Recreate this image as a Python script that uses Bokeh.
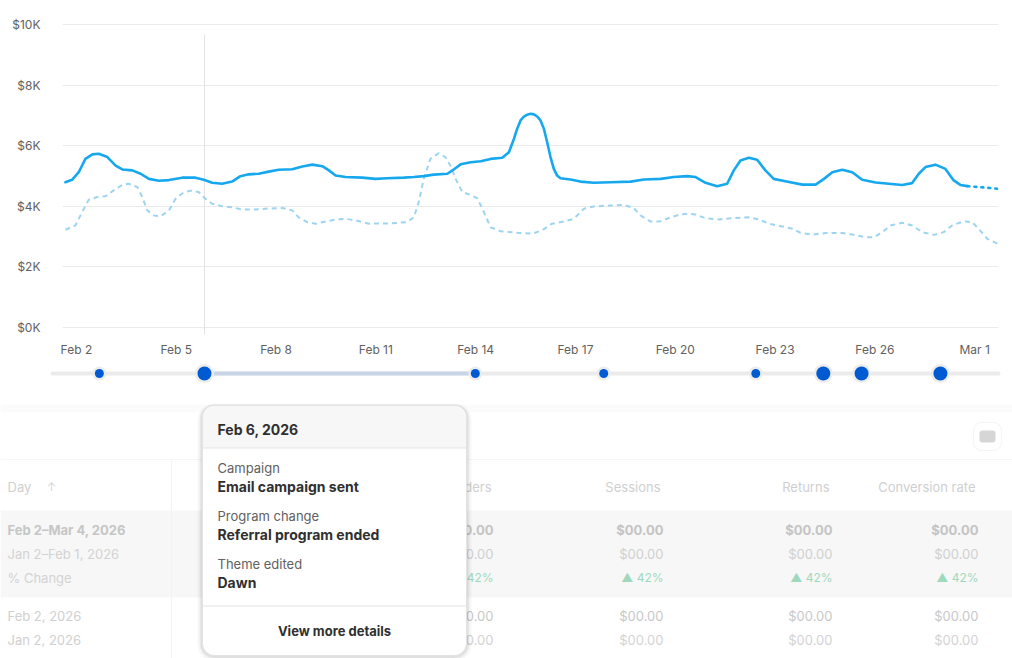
from bokeh.plotting import figure
from bokeh.layouts import column
from bokeh.models import Range1d, FixedTicker
from bokeh.core.properties import value
from bokeh.embed import file_html
from bokeh.resources import INLINE

# ---------------- data ----------------
tick_days = [0, 3, 6, 9, 12, 15, 18, 21, 24, 27]
tick_labels = ["Feb 2", "Feb 5", "Feb 8", "Feb 11", "Feb 14", "Feb 17", "Feb 20", "Feb 23", "Feb 26", "Mar 1"]
y_ticks = [0, 2000, 4000, 6000, 8000, 10000]
y_tick_labels = ["$0K", "$2K", "$4K", "$6K", "$8K", "$10K"]

# current period (days after Feb 2, sales in $)
cur_day = [-0.33, -0.13, 0.07, 0.27, 0.48, 0.67, 0.93, 1.18, 1.38, 1.68, 1.93, 2.18, 2.48, 2.78, 3.18, 3.58,
           3.83, 4.08, 4.38, 4.68, 4.93, 5.18, 5.48, 5.78, 6.08, 6.49, 6.79, 7.09, 7.39, 7.59, 7.79, 8.09,
           8.59, 8.99, 9.34, 9.84, 10.14, 10.44, 10.74, 11.15, 11.34, 11.55, 11.85, 12.15, 12.45, 12.80,
           13.00, 13.15, 13.25, 13.35, 13.45, 13.55, 13.65, 13.75, 13.85, 13.95, 14.05, 14.15, 14.25, 14.35,
           14.45, 14.55, 14.85, 15.15, 15.55, 16.05, 16.66,
           17.06, 17.56, 17.96, 18.36, 18.61, 18.91, 19.26, 19.56, 19.76, 19.96, 20.21, 20.46, 20.71, 20.96,
           21.31, 21.82, 22.22, 22.47, 22.72, 23.02, 23.32, 23.62, 24.02, 24.42, 24.82, 25.12, 25.32, 25.52,
           25.82, 26.12, 26.37, 26.57, 26.78]
cur_sales = [4790, 4870, 5120, 5560, 5710, 5730, 5620, 5340, 5210, 5180, 5070, 4900, 4840, 4860, 4940, 4940,
             4870, 4770, 4740, 4810, 4990, 5050, 5070, 5140, 5200, 5220, 5310, 5370, 5320, 5180, 5010, 4960,
             4940, 4900, 4920, 4940, 4960, 4990, 5040, 5070, 5210, 5380, 5450, 5480, 5560, 5600,
             5780, 6220, 6560, 6830, 6960, 7020, 7050, 7030, 6960, 6830, 6560, 6110, 5620, 5230,
             5010, 4920, 4880, 4810, 4770, 4790, 4810,
             4880, 4900, 4960, 4990, 4960, 4770, 4660, 4740, 5180, 5510, 5600, 5530, 5180, 4900,
             4820, 4710, 4710, 4900, 5120, 5200, 5120, 4870, 4780, 4740, 4700, 4760, 5070, 5290,
             5370, 5230, 4850, 4700, 4660]
# incomplete (projected) tail
proj_day = [26.78, 27.24, 27.73]
proj_sales = [4660, 4620, 4570]

# previous period
prev_day = [-0.33, -0.03, 0.17, 0.37, 0.63, 0.88, 1.12, 1.38, 1.57, 1.83, 1.98, 2.13, 2.33, 2.53, 2.78, 2.98,
            3.23, 3.48, 3.68, 3.88, 4.08, 4.38, 4.68, 4.98, 5.38, 5.78, 6.19, 6.49, 6.68, 6.94, 7.19, 7.49,
            7.79, 8.09, 8.39, 8.79, 9.44, 9.94, 10.14, 10.29, 10.44, 10.64, 10.89, 11.09, 11.24, 11.40,
            11.60, 11.85, 12.05, 12.25, 12.45, 12.75, 13.25, 13.70, 14.00, 14.30, 14.65, 14.95, 15.25, 15.55,
            16.05, 16.45, 16.75, 16.96, 17.26, 17.56, 17.86, 18.16, 18.41, 18.61, 18.91, 19.31, 19.81, 20.21,
            20.51, 20.81, 21.21, 21.52, 21.76, 22.12, 22.52, 23.02, 23.32, 23.72, 23.97, 24.22, 24.47, 24.82,
            25.12, 25.42, 25.77, 26.07, 26.32, 26.67, 26.93, 27.12, 27.38, 27.68]
prev_sales = [3220, 3360, 3800, 4210, 4300, 4330, 4520, 4700, 4740, 4630, 4300, 3860, 3690, 3660, 3860, 4240,
              4460, 4520, 4460, 4240, 4080, 4000, 3960, 3890, 3890, 3920, 3940, 3860, 3630, 3470, 3420, 3490,
              3560, 3580, 3530, 3420, 3430, 3470, 3630, 4130, 4900, 5560, 5750, 5620, 5340, 4900,
              4460, 4370, 4260, 3800, 3300, 3170, 3120, 3090, 3200, 3420, 3490, 3580, 3910, 3990,
              4020, 4040, 3940, 3690, 3490, 3500, 3630, 3730, 3750, 3720, 3600, 3560, 3610, 3630,
              3560, 3420, 3330, 3250, 3120, 3060, 3110, 3110, 3060, 2970, 2970, 3140, 3360, 3450,
              3360, 3140, 3050, 3140, 3360, 3500, 3470, 3250, 2920, 2760]

# timeline events
event_day = [0.69, 3.85, 11.99, 15.85, 20.42, 22.45, 23.60, 25.97]
event_count = [1, 3, 1, 1, 1, 2, 2, 2]
selected_day = 3.85
selected_end_day = 11.99

# tooltip content
tooltip_title = "Feb 6, 2026"
tooltip_types = ["Campaign", "Program change", "Theme edited"]
tooltip_names = ["Email campaign sent", "Referral program ended", "Dawn"]
tooltip_link = "View more details"

# table (background) content
table_cols = ["Orders", "Sessions", "Returns", "Conversion rate"]
summary_labels = ["Feb 2\u2013Mar 4, 2026", "Jan 2\u2013Feb 1, 2026", "% Change"]
row_labels = ["Feb 2, 2026", "Jan 2, 2026"]
cell_value = "$00.00"
change_value = "\u25b2 42%"

# ---------------- layout constants ----------------
W, H, TOP_H = 1012, 658, 362
PX_PER_DAY, DAY0_PX = 33.27, 75.9
FL, FR, FT, FB = 62, 998, 15, 334
ZERO_PX, PX_PER_USD = 326.7, 30.27 / 1000.0
FONT = value("Inter")
GRAY = "#616161"
INK = "#303030"


def px_to_day(px):
    return (px - DAY0_PX) / PX_PER_DAY


def px_to_usd(py):
    return (ZERO_PX - py) / PX_PER_USD


# ---------------- chart ----------------
p = figure(width=W, height=TOP_H, output_backend="svg", toolbar_location=None,
           x_range=Range1d(px_to_day(FL), px_to_day(FR)),
           y_range=Range1d(px_to_usd(FB), px_to_usd(FT)),
           min_border_left=FL, min_border_right=W - FR, min_border_top=FT, min_border_bottom=TOP_H - FB,
           outline_line_color=None, background_fill_color="white", border_fill_color="white",
           frame_align=False)

p.xaxis.ticker = FixedTicker(ticks=tick_days)
p.xaxis.major_label_overrides = {d: s for d, s in zip(tick_days, tick_labels)}
p.yaxis.ticker = FixedTicker(ticks=y_ticks)
p.yaxis.major_label_overrides = {v: s for v, s in zip(y_ticks, y_tick_labels)}
for ax in (p.xaxis, p.yaxis):
    ax.axis_line_color = None
    ax.major_tick_line_color = None
    ax.minor_tick_line_color = None
    ax.major_label_text_font = "Inter"
    ax.major_label_text_font_size = "12px"
    ax.major_label_text_color = GRAY
p.xaxis.major_label_standoff = 1
p.yaxis.major_label_standoff = 16
p.xgrid.visible = False
p.ygrid.grid_line_color = "#ebebeb"
p.ygrid.grid_line_width = 1

# hover cursor line
p.segment(x0=[selected_day], x1=[selected_day], y0=[px_to_usd(336)], y1=[px_to_usd(34)],
          line_color="#e3e3e3", line_width=1)

p.line(prev_day, prev_sales, line_color="#9dd4f0", line_width=2, line_dash="5 4", line_join="round")
p.line(cur_day, cur_sales, line_color="#16a8ee", line_width=2.6, line_join="round", line_cap="round")
p.line(proj_day, proj_sales, line_color="#16a8ee", line_width=2.6, line_dash="2 5", line_cap="round")

# ---------------- lower panel: timeline, table, tooltip ----------------
q = figure(width=W, height=H - TOP_H, output_backend="svg", toolbar_location=None,
           x_range=Range1d(px_to_day(0), px_to_day(W)), y_range=Range1d(H, TOP_H),
           x_axis_location=None, y_axis_location=None,
           min_border_left=0, min_border_right=0, min_border_top=0, min_border_bottom=0,
           outline_line_color=None, background_fill_color="white", border_fill_color="white",
           frame_align=False)
q.extra_x_ranges = {"px": Range1d(0, W)}
q.grid.visible = False

# timeline track
q.segment(x0=[52], x1=[998], y0=[373], y1=[373], x_range_name="px",
          line_color="#ebebeb", line_width=4, line_cap="round")
q.segment(x0=[selected_day], x1=[selected_end_day], y0=[373], y1=[373],
          line_color="#c8d5e7", line_width=4)
sizes = [14 if c > 1 else 9 for c in event_count]
q.scatter(event_day, [373] * len(event_day), size=[s + 5 for s in sizes],
          fill_color="#ececec", line_color=None)
q.scatter(event_day, [373] * len(event_day), size=sizes, fill_color="#005bd3", line_color=None)

# table backdrop
q.quad(left=[0], right=[W], top=[404], bottom=[412], x_range_name="px", fill_color="#fbfbfb", line_color=None)
q.quad(left=[0], right=[W], top=[510], bottom=[597], x_range_name="px", fill_color="#f7f7f7", line_color=None)
q.segment(x0=[0], x1=[W], y0=[459], y1=[459], x_range_name="px", line_color="#f6f6f6", line_width=1)
q.segment(x0=[171], x1=[171], y0=[460], y1=[H], x_range_name="px", line_color="#f3f3f3", line_width=1)
q.quad(left=[973], right=[1001], top=[422], bottom=[450], x_range_name="px",
       fill_color="white", line_color="#f4f4f4", border_radius=8)
q.quad(left=[979], right=[995], top=[430], bottom=[442], x_range_name="px",
       fill_color="#d6d6d6", line_color=None, border_radius=3)

TXT = dict(x_range_name="px", text_font=FONT, text_baseline="middle")
q.text(x=[7], y=[486], text=["Day"], text_font_size="13px", text_color="#cfcfcf", **TXT)
q.text(x=[46], y=[486], text=["\u2191"], text_font_size="12px", text_color="#d9d9d9", **TXT)
head_right = [491, 660, 829, 975]
val_right = [493, 663, 832, 978]
q.text(x=head_right, y=[486] * 4, text=table_cols, text_font_size="13px", text_color="#cfcfcf",
       text_align="right", **TXT)
summary_y = [529, 553, 577]
q.text(x=[7], y=[summary_y[0]], text=[summary_labels[0]], text_font_size="13px", text_font_style="bold",
       text_color="#c6c6c6", **TXT)
q.text(x=[7, 7], y=summary_y[1:], text=summary_labels[1:], text_font_size="13px",
       text_color="#d3d3d3", **TXT)
q.text(x=val_right, y=[summary_y[0]] * 4, text=[cell_value] * 4, text_font_size="13px",
       text_font_style="bold", text_color="#c4c4c4", text_align="right", **TXT)
q.text(x=val_right, y=[summary_y[1]] * 4, text=[cell_value] * 4, text_font_size="13px",
       text_color="#d0d0d0", text_align="right", **TXT)
q.text(x=val_right, y=[summary_y[2]] * 4, text=[change_value] * 4, text_font_size="12px",
       text_color="#9fd9bd", text_align="right", **TXT)
row_y = [615, 639]
q.text(x=[7, 7], y=row_y, text=row_labels, text_font_size="13px", text_color="#d0d0d0", **TXT)
for yy, col in zip(row_y, ["#c8c8c8", "#d3d3d3"]):
    q.text(x=val_right, y=[yy] * 4, text=[cell_value] * 4, text_font_size="13px",
           text_color=col, text_align="right", **TXT)

# tooltip card
for pad, a in ((5, 0.03), (3, 0.04), (2, 0.05)):
    q.quad(left=[202 - pad], right=[466 + pad], top=[405 - pad * 0.4], bottom=[655 + pad * 1.2],
           x_range_name="px", fill_color="black", fill_alpha=a, line_color=None, border_radius=12 + pad)
q.quad(left=[202], right=[466], top=[405], bottom=[655], x_range_name="px",
       fill_color="white", line_color="#e3e3e3", line_width=1, border_radius=12)
q.quad(left=[202.5], right=[465.5], top=[405.5], bottom=[447.5], x_range_name="px",
       fill_color="#f7f7f7", line_color=None, border_radius=(11, 11, 0, 0))
q.segment(x0=[202, 202], x1=[466, 466], y0=[447.5, 605.5], y1=[447.5, 605.5], x_range_name="px",
          line_color="#e3e3e3", line_width=1)
q.text(x=[217], y=[429], text=[tooltip_title], text_font_size="14px", text_font_style="bold",
       text_color=INK, **TXT)
type_y = [467, 515, 563]
name_y = [486, 534, 582]
q.text(x=[217] * 3, y=type_y, text=tooltip_types, text_font_size="13px", text_color=GRAY, **TXT)
q.text(x=[217] * 3, y=name_y, text=tooltip_names, text_font_size="14px", text_font_style="bold",
       text_color=INK, **TXT)
q.text(x=[334], y=[630], text=[tooltip_link], text_font_size="13px", text_font_style="bold",
       text_color=INK, text_align="center", **TXT)

layout = column(p, q, spacing=0)
open("out.html", "w").write(file_html(layout, INLINE))
